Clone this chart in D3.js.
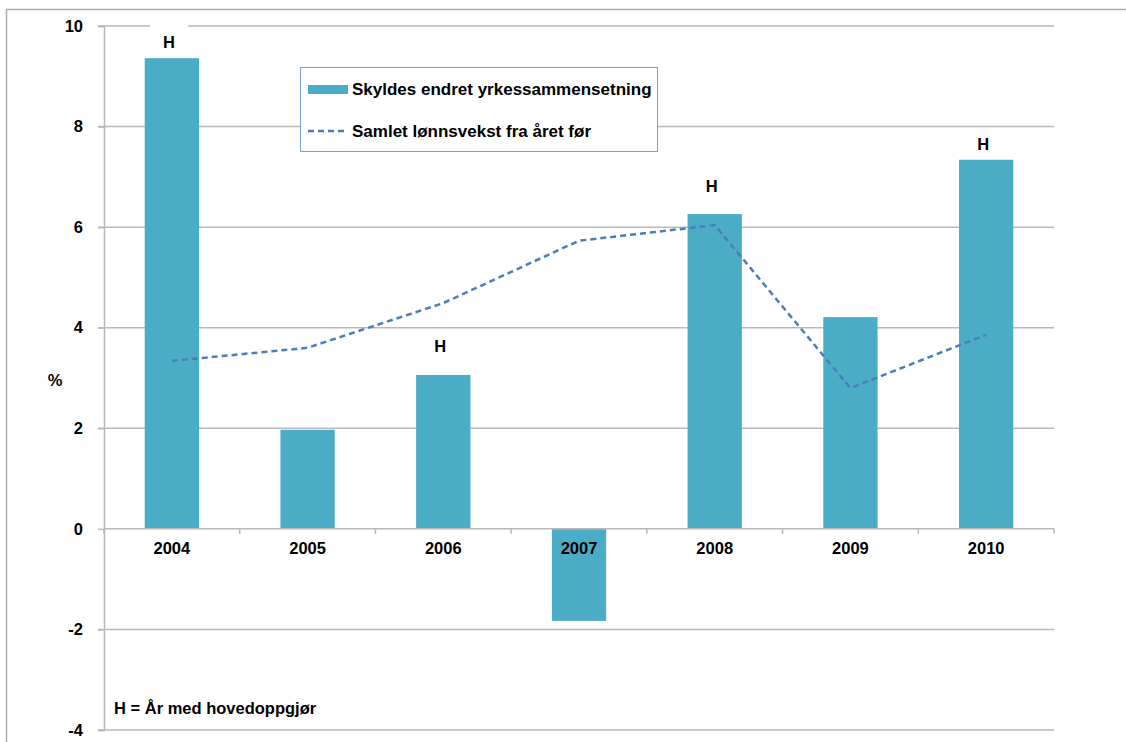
<!DOCTYPE html>
<html><head><meta charset="utf-8">
<script src="https://cdn.jsdelivr.net/npm/d3@7"></script>
<style>body{margin:0;background:#fff}svg{display:block;font-family:"Liberation Sans",Arial,Helvetica,sans-serif}</style>
</head><body><svg id="c" width="1126" height="742"></svg>
<script>
const years = ["2004","2005","2006","2007","2008","2009","2010"];
const occupationEffect = [9.36, 1.97, 3.06, -1.83, 6.26, 4.21, 7.34];
const totalWageGrowth = [3.34, 3.60, 4.49, 5.73, 6.04, 2.80, 3.86];
const mainSettlement = [true, false, true, false, true, false, true];
const hLabelValue = [9.69, null, 3.63, null, 6.81, null, 7.66];
const yTicks = [-4, -2, 0, 2, 4, 6, 8, 10];
const legendLabels = ["Skyldes endret yrkessammensetning", "Samlet lønnsvekst fra året før"];
const noteText = "H = År med hovedoppgjør";

const svg = d3.select("#c");
const FS = 16.5;
const L = 104, R = 1054, T = 26, B = 730;
const x = d3.scaleBand().domain(years).range([L, R]).paddingInner(0.6).paddingOuter(0.3);
const xb = d3.scaleBand().domain(years).range([L, R]);
const y = d3.scaleLinear().domain([-4, 10]).range([B, T]);
const barColor = "#4bacc6", lineColor = "#4a7ebb", grid = "#b9b9b9";

// outer frame
svg.append("line").attr("x1", 6).attr("x2", 1126).attr("y1", 9.5).attr("y2", 9.5).attr("stroke", "#ababab").attr("stroke-width", 1.5);
svg.append("line").attr("x1", 6.5).attr("x2", 6.5).attr("y1", 9).attr("y2", 742).attr("stroke", "#ababab").attr("stroke-width", 1.5);

// gridlines
svg.append("g").selectAll("line").data(yTicks.filter(d => d !== 0)).join("line")
  .attr("x1", L - 6).attr("x2", R).attr("y1", d => y(d)).attr("y2", d => y(d))
  .attr("stroke", grid).attr("stroke-width", 1.5);

// y axis
const ya = svg.append("g").attr("transform", `translate(${L},0)`)
  .call(d3.axisLeft(y).tickValues(yTicks).tickSize(6).tickPadding(15).tickFormat(d => String(d)));
ya.select(".domain").attr("stroke", grid).attr("stroke-width", 1.5);
ya.selectAll(".tick line").attr("stroke", grid).attr("stroke-width", 1.5);
ya.selectAll(".tick text").attr("font-size", FS).attr("font-weight", "bold").attr("fill", "#000").attr("font-family", "Liberation Sans, Arial, sans-serif");
svg.append("text").attr("x", 55).attr("y", 386).attr("text-anchor", "middle").attr("font-size", FS).attr("font-weight", "bold").text("%");

// bars
svg.append("g").selectAll("rect").data(years).join("rect")
  .attr("x", d => x(d)).attr("width", x.bandwidth())
  .attr("y", (d, i) => y(Math.max(0, occupationEffect[i])))
  .attr("height", (d, i) => Math.abs(y(occupationEffect[i]) - y(0)))
  .attr("fill", barColor);

// x axis at zero
const xa = svg.append("g").attr("transform", `translate(0,${y(0)})`)
  .call(d3.axisBottom(xb).tickSize(0).tickPadding(13));
xa.select(".domain").remove();
svg.append("line").attr("x1", L).attr("x2", R).attr("y1", y(0)).attr("y2", y(0)).attr("stroke", grid).attr("stroke-width", 1.5);
svg.append("g").selectAll("line").data(d3.range(years.length + 1)).join("line")
  .attr("x1", i => L + i * xb.step()).attr("x2", i => L + i * xb.step())
  .attr("y1", y(0)).attr("y2", y(0) + 5).attr("stroke", grid).attr("stroke-width", 1.5);
xa.selectAll(".tick text").attr("font-size", FS).attr("font-weight", "bold").attr("fill", "#000").attr("font-family", "Liberation Sans, Arial, sans-serif");

// line
const line = d3.line().x((d, i) => xb(years[i]) + xb.bandwidth() / 2).y(d => y(d));
svg.append("path").datum(totalWageGrowth).attr("d", line).attr("fill", "none")
  .attr("stroke", lineColor).attr("stroke-width", 2.5).attr("stroke-dasharray", "6,4");

// H labels
years.forEach((yr, i) => {
  if (!mainSettlement[i]) return;
  const cx = xb(yr) + xb.bandwidth() / 2;
  if (i === 0) svg.append("rect").attr("x", cx - 22).attr("y", y(hLabelValue[i]) - 17).attr("width", 38).attr("height", 22).attr("fill", "#fff");
  svg.append("text").attr("x", cx - 3).attr("y", y(hLabelValue[i]) + 6).attr("text-anchor", "middle")
    .attr("font-size", FS).attr("font-weight", "bold").text("H");
});

// legend
const lg = svg.append("g");
lg.append("rect").attr("x", 300.5).attr("y", 67.5).attr("width", 357).attr("height", 84).attr("fill", "#fff").attr("stroke", "#7b9fd3").attr("stroke-width", 1);
lg.append("rect").attr("x", 308).attr("y", 85).attr("width", 40).attr("height", 9).attr("fill", barColor);
lg.append("line").attr("x1", 308).attr("x2", 348).attr("y1", 131).attr("y2", 131).attr("stroke", lineColor).attr("stroke-width", 2.5).attr("stroke-dasharray", "6,4");
lg.selectAll("text").data(legendLabels).join("text")
  .attr("x", 352).attr("y", (d, i) => [95, 137][i]).attr("font-size", 17).attr("font-weight", "bold").text(d => d);

// note
svg.append("text").attr("x", 114).attr("y", 714).attr("font-size", FS).attr("font-weight", "bold").text(noteText);
</script></body></html>
